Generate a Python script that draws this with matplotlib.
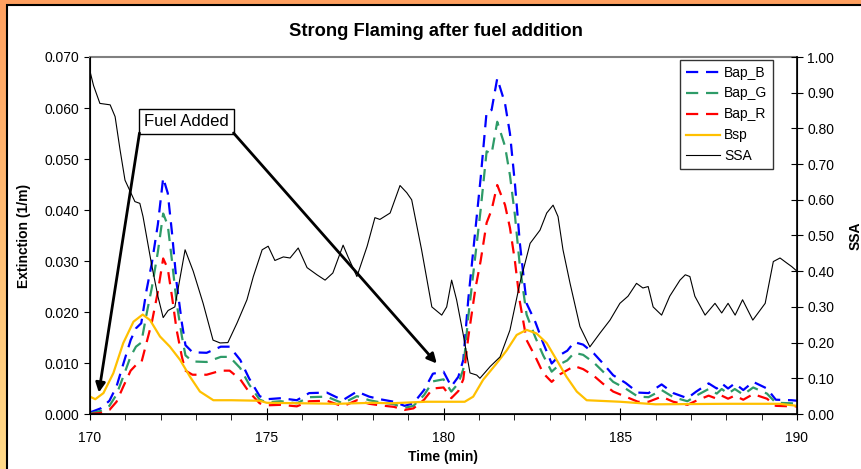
import numpy as np
import matplotlib
matplotlib.use("Agg")
import matplotlib.pyplot as plt
from matplotlib.lines import Line2D
from matplotlib.patches import Rectangle
from matplotlib.ticker import MultipleLocator, FormatStrFormatter

plt.rcParams['font.family'] = ['Liberation Sans', 'DejaVu Sans']

# Absorption (Bap) series share one time base
t_bap = [170.0, 170.3, 170.55, 170.75, 170.95, 171.15, 171.3, 171.45, 171.6, 171.75,
         171.92, 172.07, 172.2, 172.32, 172.45, 172.6, 172.7, 172.9, 173.3, 173.7,
         173.95, 174.25, 174.5, 174.8, 175.0, 175.4, 175.85, 176.2, 176.7, 177.15,
         177.55, 177.9, 178.2, 178.6, 178.9, 179.15, 179.45, 179.7, 180.0, 180.22,
         180.42, 180.56, 180.7, 180.9, 181.05, 181.22, 181.36, 181.52, 181.74, 181.88,
         182.02, 182.16, 182.35, 182.6, 182.82, 183.06, 183.3, 183.5, 183.7, 183.95,
         184.25, 184.5, 184.8, 185.15, 185.5, 185.8, 186.17, 186.5, 186.9, 187.15,
         187.5, 187.73, 187.87, 188.05, 188.24, 188.48, 188.76, 189.15, 189.4, 189.85,
         190.0]
bap_b = [0.0003, 0.0011, 0.0026, 0.0054, 0.0100, 0.0145, 0.0168, 0.0178, 0.0243, 0.0296,
         0.0372, 0.0463, 0.0433, 0.0355, 0.0257, 0.0178, 0.0135, 0.0121, 0.0120, 0.0132,
         0.0132, 0.0106, 0.0070, 0.0035, 0.0029, 0.0031, 0.0027, 0.0041, 0.0042, 0.0027,
         0.0044, 0.0034, 0.0029, 0.0024, 0.0016, 0.0021, 0.0047, 0.0079, 0.0083, 0.0054,
         0.0073, 0.0106, 0.0224, 0.0360, 0.0462, 0.0593, 0.0596, 0.0658, 0.0609, 0.0550,
         0.0452, 0.0335, 0.0217, 0.0180, 0.0139, 0.0099, 0.0116, 0.0124, 0.0141, 0.0136,
         0.0119, 0.0100, 0.0076, 0.0061, 0.0042, 0.0041, 0.0058, 0.0041, 0.0031, 0.0044,
         0.0060, 0.0050, 0.0060, 0.0050, 0.0060, 0.0047, 0.0063, 0.0050, 0.0028, 0.0027,
         0.0026]
bap_g = [0.0001, 0.0006, 0.0016, 0.0038, 0.0075, 0.0113, 0.0132, 0.0140, 0.0196, 0.0248,
         0.0318, 0.0393, 0.0370, 0.0300, 0.0218, 0.0152, 0.0115, 0.0103, 0.0102, 0.0112,
         0.0112, 0.0090, 0.0058, 0.0028, 0.0023, 0.0025, 0.0021, 0.0033, 0.0034, 0.0021,
         0.0035, 0.0027, 0.0023, 0.0019, 0.0012, 0.0016, 0.0037, 0.0064, 0.0068, 0.0044,
         0.0060, 0.0088, 0.0190, 0.0310, 0.0400, 0.0515, 0.0510, 0.0573, 0.0525, 0.0468,
         0.0390, 0.0290, 0.0195, 0.0150, 0.0115, 0.0083, 0.0098, 0.0105, 0.0120, 0.0116,
         0.0101, 0.0084, 0.0063, 0.0050, 0.0034, 0.0033, 0.0047, 0.0033, 0.0025, 0.0036,
         0.0049, 0.0040, 0.0049, 0.0040, 0.0049, 0.0038, 0.0052, 0.0040, 0.0022, 0.0021,
         0.0020]
bap_r = [0.0000, 0.0002, 0.0008, 0.0024, 0.0055, 0.0085, 0.0096, 0.0100, 0.0140, 0.0180,
         0.0240, 0.0305, 0.0285, 0.0230, 0.0165, 0.0112, 0.0085, 0.0077, 0.0077, 0.0085,
         0.0085, 0.0068, 0.0043, 0.0021, 0.0017, 0.0018, 0.0015, 0.0025, 0.0026, 0.0015,
         0.0027, 0.0020, 0.0017, 0.0014, 0.0008, 0.0011, 0.0028, 0.0050, 0.0052, 0.0031,
         0.0045, 0.0068, 0.0150, 0.0245, 0.0300, 0.0375, 0.0400, 0.0449, 0.0410, 0.0365,
         0.0300, 0.0220, 0.0145, 0.0112, 0.0080, 0.0063, 0.0078, 0.0086, 0.0094, 0.0088,
         0.0075, 0.0060, 0.0044, 0.0034, 0.0024, 0.0024, 0.0034, 0.0024, 0.0018, 0.0026,
         0.0036, 0.0030, 0.0036, 0.0030, 0.0036, 0.0028, 0.0039, 0.0030, 0.0016, 0.0015,
         0.0015]

# Scattering (Bsp)
t_bsp = [170.0, 170.15, 170.38, 170.66, 170.94, 171.23, 171.49, 171.7, 171.98, 172.26,
         172.55, 172.83, 173.11, 173.49, 174.0, 174.8, 175.0, 176.0, 177.0, 178.0,
         178.5, 179.5, 180.6, 180.84, 181.12, 181.5, 181.79, 182.07, 182.35, 182.63,
         182.92, 183.2, 183.48, 183.77, 184.05, 185.0, 186.0, 188.0, 189.5, 190.0]
bsp = [0.0034, 0.0029, 0.0041, 0.0080, 0.0139, 0.0181, 0.0195, 0.0184, 0.0152, 0.0132,
       0.0106, 0.0073, 0.0044, 0.0027, 0.0027, 0.0026, 0.0022, 0.0021, 0.0020, 0.0022,
       0.0021, 0.0024, 0.0024, 0.0034, 0.0067, 0.0099, 0.0125, 0.0155, 0.0165, 0.0158,
       0.0139, 0.0106, 0.0073, 0.0044, 0.0027, 0.0024, 0.0019, 0.0020, 0.0020, 0.0016]

# Single scattering albedo (right axis)
t_ssa = [170.0, 170.1, 170.28, 170.57, 170.71, 170.85, 170.99, 171.27, 171.41, 171.5,
         171.74, 171.92, 172.07, 172.21, 172.4, 172.69, 172.92, 173.2, 173.48, 173.68,
         173.9, 174.16, 174.44, 174.62, 174.87, 175.04, 175.23, 175.47, 175.66, 175.89,
         176.14, 176.42, 176.65, 176.87, 177.16, 177.3, 177.55, 177.84, 178.06, 178.2,
         178.49, 178.77, 178.96, 179.1, 179.38, 179.67, 179.95, 180.09, 180.23, 180.37,
         180.55, 180.75, 180.94, 181.03, 181.32, 181.6, 181.88, 182.16, 182.45, 182.73,
         182.92, 183.1, 183.24, 183.38, 183.58, 183.86, 184.14, 184.43, 184.71, 184.99,
         185.22, 185.46, 185.64, 185.79, 185.93, 186.17, 186.4, 186.69, 186.84, 186.97,
         187.11, 187.4, 187.68, 187.87, 188.05, 188.25, 188.46, 188.75, 189.1, 189.33,
         189.52, 189.71, 189.85, 190.0]
ssa = [0.96, 0.92, 0.87, 0.866, 0.833, 0.74, 0.655, 0.595, 0.59, 0.553,
       0.42, 0.33, 0.27, 0.29, 0.30, 0.46, 0.40, 0.31, 0.207, 0.199,
       0.20, 0.255, 0.32, 0.385, 0.46, 0.47, 0.43, 0.44, 0.437, 0.465,
       0.41, 0.39, 0.375, 0.395, 0.473, 0.44, 0.385, 0.47, 0.55, 0.545,
       0.563, 0.64, 0.62, 0.60, 0.46, 0.30, 0.277, 0.30, 0.375, 0.32,
       0.227, 0.115, 0.109, 0.10, 0.133, 0.16, 0.235, 0.366, 0.478, 0.515,
       0.563, 0.585, 0.553, 0.46, 0.366, 0.245, 0.188, 0.227, 0.263, 0.31,
       0.33, 0.366, 0.353, 0.357, 0.30, 0.277, 0.33, 0.375, 0.39, 0.385,
       0.33, 0.277, 0.31, 0.283, 0.31, 0.277, 0.32, 0.263, 0.31, 0.427,
       0.437, 0.423, 0.413, 0.40]

W, H = 861.0, 469.0
fig = plt.figure(figsize=(8.61, 4.69), dpi=100, facecolor='white')

# orange frame: solid strip on top, orange->yellow gradient strip on the left
fig.add_artist(Rectangle((0, 1 - 5.5 / H), 1, 5.5 / H, transform=fig.transFigure,
                         facecolor='#FFA060', edgecolor='none', zorder=-5))
left = fig.add_axes([0, 0, 6.5 / W, 1], zorder=-10)
grad = np.linspace(0, 1, 256).reshape(-1, 1)
cmap = matplotlib.colors.LinearSegmentedColormap.from_list('frame', ['#FFA060', '#FFDA88'])
left.imshow(grad, aspect='auto', cmap=cmap, extent=[0, 1, 0, 1], origin='upper')
left.axis('off')
fig.add_artist(Line2D([6.5 / W, 6.5 / W, 1], [0, 1 - 5.5 / H, 1 - 5.5 / H],
                      color='black', lw=1.5, solid_joinstyle='miter'))

ax = fig.add_axes([90 / W, 1 - 414 / H, 707 / W, 357 / H])
ax.patch.set_alpha(0)
dash = (5.5, 3.5)
l_b, = ax.plot(t_bap, bap_b, color='#0000FF', lw=1.6, dashes=dash, label='Bap_B')
l_g, = ax.plot(t_bap, bap_g, color='#2E9B68', lw=1.6, dashes=dash, label='Bap_G')
l_r, = ax.plot(t_bap, bap_r, color='#FF0000', lw=1.6, dashes=dash, label='Bap_R')
l_s, = ax.plot(t_bsp, bsp, color='#FFC000', lw=1.6, label='Bsp')

ax.set_xlim(170, 190)
ax.set_ylim(0, 0.07)
ax.xaxis.set_major_locator(MultipleLocator(5))
ax.xaxis.set_minor_locator(MultipleLocator(1))
ax.yaxis.set_major_locator(MultipleLocator(0.01))
ax.yaxis.set_major_formatter(FormatStrFormatter('%.3f'))
ax.tick_params(axis='x', which='major', direction='inout', length=8, labelsize=10, pad=8)
ax.tick_params(axis='x', which='minor', direction='out', length=4)
ax.tick_params(axis='y', direction='out', length=4, labelsize=10)
ax.spines['top'].set_color('#808080')
ax.spines['top'].set_linewidth(1.5)
ax.spines['left'].set_linewidth(1.2)
ax.spines['bottom'].set_linewidth(1.2)
ax.set_xlabel('Time (min)', fontsize=10, fontweight='bold', labelpad=4)
ax.set_ylabel('Extinction (1/m)', fontsize=10, fontweight='bold', labelpad=10)
fig.text(436 / W, 1 - 31 / H, 'Strong Flaming after fuel addition', fontsize=13.2,
         fontweight='bold', ha='center', va='center')

ax2 = ax.twinx()
l_ssa, = ax2.plot(t_ssa, ssa, color='black', lw=0.8, label='SSA')
ax2.set_ylim(0, 1.0)
ax2.yaxis.set_major_locator(MultipleLocator(0.1))
ax2.yaxis.set_major_formatter(FormatStrFormatter('%.2f'))
ax2.tick_params(axis='y', direction='inout', length=8, labelsize=10)
ax2.spines['top'].set_visible(False)
ax2.spines['right'].set_linewidth(1.2)
ax2.set_ylabel('SSA', fontsize=10, fontweight='bold', labelpad=10)

# "Fuel Added" callout with two arrows from the box corners
ax2.text(172.73, 0.0573 / 0.07, 'Fuel Added', fontsize=12, ha='center', va='center',
         bbox=dict(boxstyle='square,pad=0.3', facecolor='white', edgecolor='black', lw=1))
for tip_x, tip_y, base_x in [(170.25, 0.0042, 171.40), (179.81, 0.0099, 174.06)]:
    ax2.annotate('', xy=(tip_x, tip_y / 0.07), xytext=(base_x, 0.0551 / 0.07),
                 arrowprops=dict(arrowstyle='-|>', color='black', lw=2, mutation_scale=14,
                                 shrinkA=0, shrinkB=0))

ax2.legend(handles=[l_b, l_g, l_r, l_s, l_ssa], loc='upper right',
           bbox_to_anchor=(773 / W, 1 - 60 / H), bbox_transform=fig.transFigure,
           borderaxespad=0, fontsize=10, frameon=True, fancybox=False, edgecolor='black',
           handlelength=2.45, borderpad=0.4, labelspacing=0.5, handletextpad=0.3)
ax2.get_legend().get_frame().set_linewidth(1)

fig.savefig('out.png', dpi=100)
